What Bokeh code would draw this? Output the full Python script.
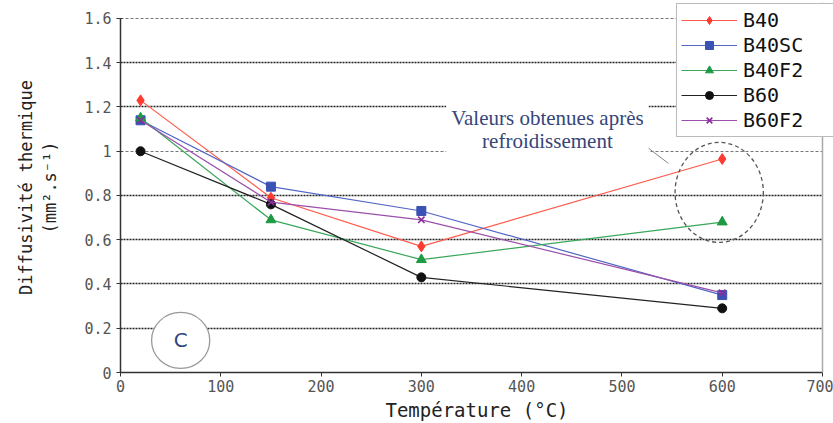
from bokeh.plotting import figure
from bokeh.models import (Legend, LegendItem, Grid, FixedTicker, Label, Span,
                          BoxAnnotation, CustomJSTickFormatter)
from bokeh.embed import file_html
from bokeh.resources import INLINE

# ---- data ----
temperature = [20, 150, 300, 600]
b40 = [1.23, 0.79, 0.57, 0.965]
b40sc = [1.14, 0.84, 0.73, 0.35]
b40f2 = [1.15, 0.69, 0.51, 0.68]
b60 = [1.00, 0.76, 0.43, 0.29]
b60f2 = [1.14, 0.77, 0.69, 0.36]
series_names = ["B40", "B40SC", "B40F2", "B60", "B60F2"]
x_ticks = [0, 100, 200, 300, 400, 500, 600, 700]
y_ticks = [0, 0.2, 0.4, 0.6, 0.8, 1.0, 1.2, 1.4, 1.6]
dark_grid = [0.2, 0.4, 0.6, 0.8, 1.2, 1.4]
light_grid = [1.0, 1.6]

MONO = "DejaVu Sans Mono"

# frame spans a little past 700 / 1.6 so the legend box (drawn inside the frame) fits
p = figure(width=833, height=423, x_range=(0, 710.97), y_range=(0, 1.6723),
           output_backend="svg", toolbar_location=None,
           min_border_left=120, min_border_right=0,
           min_border_top=2, min_border_bottom=51)
p.outline_line_color = None
p.background_fill_color = "white"

# grids
p.xgrid.visible = False
p.ygrid.ticker = FixedTicker(ticks=dark_grid)
p.ygrid.grid_line_color = "#222222"
p.ygrid.grid_line_dash = "2 1"
p.ygrid.grid_line_width = 1.3
g2 = Grid(dimension=1, ticker=FixedTicker(ticks=light_grid),
          grid_line_color="#777777", grid_line_dash="3 2", grid_line_width=1)
p.add_layout(g2)

# axes
p.xaxis.ticker = FixedTicker(ticks=x_ticks)
p.yaxis.ticker = FixedTicker(ticks=y_ticks)
p.xaxis.bounds = (0, 700)
p.yaxis.bounds = (0, 1.6)
p.yaxis.formatter = CustomJSTickFormatter(code="return Number(tick.toFixed(1)).toString();")
for ax in (p.xaxis, p.yaxis):
    ax.axis_line_color = "#333333"
    ax.axis_line_width = 1.5
    ax.major_tick_line_color = "#333333"
    ax.major_tick_out = 4
    ax.major_tick_in = 0
    ax.minor_tick_line_color = None
    ax.major_label_text_font = MONO
    ax.major_label_text_font_size = "15px"
    ax.major_label_text_color = "#555555"
    ax.axis_label_text_font = MONO
    ax.axis_label_text_font_style = "normal"
    ax.axis_label_text_color = "#222222"
p.xaxis.axis_label = "Température (°C)"
p.xaxis.axis_label_text_font_size = "19px"
p.xaxis.major_label_standoff = 3
p.xaxis.axis_label_standoff = 4
p.yaxis.axis_label = "Diffusivité thermique\n(mm².s⁻¹)"
p.yaxis.axis_label_text_font_size = "17px"
p.yaxis.major_label_standoff = 5
p.yaxis.major_tick_in = 2
p.yaxis.axis_label_standoff = 21

# blank out the strip right of 700 and draw the plot-area right border
p.add_layout(BoxAnnotation(left=700, fill_color="white", fill_alpha=1, line_color=None,
                           level="underlay"))
p.add_layout(Span(location=700, dimension="height", line_color="#aaaaaa", line_width=1.5))

# series
specs = [
    (b40, "#ff3b30", "#ff5a4a", "diamond", 11),
    (b40sc, "#3a52b4", "#5266c6", "square", 9),
    (b40f2, "#1e9a44", "#3aa65a", "triangle", 10),
    (b60, "#111111", "#222222", "circle", 9),
    (b60f2, "#8a2c9c", "#9a50aa", "x", 9),
]
items = []
for name, (vals, mcol, lcol, marker, size) in zip(series_names, specs):
    lr = p.line(temperature, vals, line_color=lcol, line_width=1.2)
    kw = dict(marker=marker, size=size, fill_color=mcol, line_color=mcol)
    if marker == "x":
        kw["line_width"] = 1.6
    sr = p.scatter(temperature, vals, **kw)
    items.append(LegendItem(label=name, renderers=[lr, sr]))

# annotation: dashed ellipse around values after cooling
p.ellipse(x=597, y=0.814, width=88, height=0.452, fill_color=None,
          line_color="#555555", line_dash="4 3", line_width=1.3)
p.segment(x0=512.5, y0=1.062, x1=546.4, y1=0.945, line_color="#888888", line_width=1)
p.add_layout(Label(x=425.7, y=1.10, text="Valeurs obtenues après\nrefroidissement",
                   text_align="center", text_baseline="middle",
                   text_font="Liberation Serif", text_font_size="21px",
                   text_color="#36457a", text_line_height=0.95,
                   background_fill_color="white", padding=5))

# circled "C"
p.ellipse(x=60, y=0.145, width=58, height=0.253, fill_color="white",
          line_color="#999999", line_width=1.3)
p.add_layout(Label(x=60, y=0.145, text="C", text_align="center", text_baseline="middle",
                   text_font="DejaVu Sans", text_font_size="20px", text_color="#2f4580"))

legend = Legend(items=items, location=(556, 235), padding=4, spacing=1, margin=0,
                glyph_width=56, glyph_height=20, label_height=20, label_width=100,
                label_standoff=6, label_text_font=MONO, label_text_font_size="20px",
                label_text_color="#111111",
                border_line_color="#777777", border_line_width=1.5,
                background_fill_color="white", background_fill_alpha=1)
p.add_layout(legend)

open("out.html", "w").write(file_html(p, INLINE))
